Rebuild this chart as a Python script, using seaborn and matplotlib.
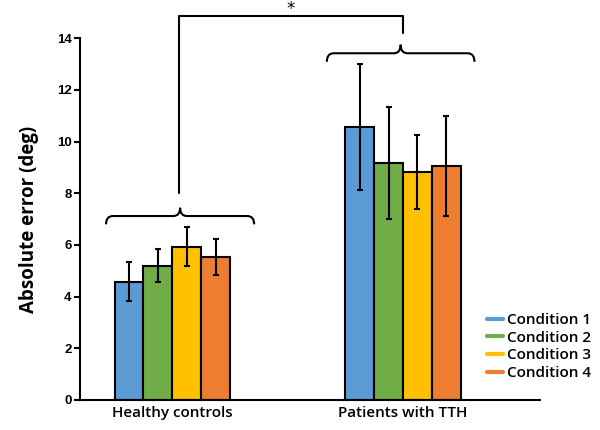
import numpy as np
import pandas as pd
import matplotlib
matplotlib.use("Agg")
import matplotlib.pyplot as plt
import seaborn as sns
from matplotlib.lines import Line2D
from matplotlib.path import Path
from matplotlib.patches import PathPatch

# -----------------------------
# DATA
# -----------------------------
groups = ["Healthy controls", "Patients with TTH"]
conditions = ["Condition 1", "Condition 2", "Condition 3", "Condition 4"]
means_healthy = [4.58, 5.20, 5.93, 5.53]
means_tth = [10.58, 9.16, 8.82, 9.06]
err_healthy = [0.75, 0.65, 0.76, 0.70]
err_tth = [2.44, 2.17, 1.43, 1.93]
colors = ["#5B9BD5", "#70AD47", "#FFC000", "#ED7D31"]

df = pd.DataFrame({
    "group": [g for g in groups for _ in conditions],
    "condition": conditions * len(groups),
    "mean": means_healthy + means_tth,
    "err": err_healthy + err_tth,
})

sns.set_style("white", {"text.color": "black", "axes.labelcolor": "black",
                        "xtick.color": "black", "ytick.color": "black",
                        "axes.edgecolor": "black"})
plt.rcParams["font.family"] = ["Open Sans", "DejaVu Sans"]

fig = plt.figure(figsize=(6, 4.3), dpi=100)
ax = fig.add_axes([0.1333, 0.0698, 0.7667, 0.8412])

sns.barplot(
    data=df, x="group", y="mean", hue="condition",
    order=groups, hue_order=conditions, palette=colors, saturation=1,
    width=0.5, errorbar=None, edgecolor="black", linewidth=1.5,
    legend=False, ax=ax,
)

# error bars on top of each bar
for cond, cont in zip(conditions, ax.containers):
    sub = df[df["condition"] == cond].set_index("group").loc[groups]
    xs = [b.get_x() + b.get_width() / 2 for b in cont]
    ys = [b.get_height() for b in cont]
    ax.errorbar(xs, ys, yerr=sub["err"].values, fmt="none",
                ecolor="black", elinewidth=1.5, capsize=2, capthick=1.5, zorder=5)

ax.set_xlim(-0.4, 1.594)
ax.set_ylim(0, 14)
ax.set_yticks(range(0, 15, 2))
for lab in ax.get_yticklabels():
    lab.set_fontfamily("Liberation Sans")
    lab.set_fontweight("bold")
    lab.set_fontsize(9.5)
ax.tick_params(axis="y", direction="out", length=4, width=1.5, pad=2, left=True)
ax.tick_params(axis="x", length=0, labelsize=11, pad=4)
for lab in ax.get_xticklabels():
    lab.set_fontweight("semibold")

sns.despine(ax=ax)
ax.spines["left"].set_linewidth(1.5)
ax.spines["bottom"].set_linewidth(1.5)
ax.set_xlabel("")
ax.set_ylabel("Absolute error (deg)", fontsize=13.5, fontweight="bold", labelpad=13)


# -----------------------------
# BRACES + SIGNIFICANCE
# -----------------------------
def brace(x0, x1, y, h):
    xm = (x0 + x1) / 2
    verts = [
        (x0, y - h), (x0, y), (x0 + 0.03, y),
        (xm - 0.03, y), (xm, y), (xm, y + h),
        (xm, y + h), (xm, y), (xm + 0.03, y),
        (x1 - 0.03, y), (x1, y), (x1, y - h),
    ]
    codes = [Path.MOVETO, Path.CURVE3, Path.CURVE3,
             Path.LINETO, Path.CURVE3, Path.CURVE3,
             Path.MOVETO, Path.CURVE3, Path.CURVE3,
             Path.LINETO, Path.CURVE3, Path.CURVE3]
    ax.add_patch(PathPatch(Path(verts, codes), fill=False, lw=1.5,
                           edgecolor="black", clip_on=False))


brace(-0.287, 0.355, 7.12, 0.32)
brace(0.67, 1.31, 13.42, 0.33)

x_left, x_right = 0.03, 1.0
y_top = 14.87
ax.plot([x_left, x_left, x_right, x_right], [8.03, y_top, y_top, 14.2],
        color="black", lw=1.5, clip_on=False)
ax.text((x_left + x_right) / 2, 15.12, "*", ha="center", va="center",
        fontsize=12, fontfamily="DejaVu Sans")

# -----------------------------
# LEGEND
# -----------------------------
handles = [Line2D([0], [0], color=c, lw=3) for c in colors]
ax.legend(handles, conditions, loc="lower left", bbox_to_anchor=(0.872, 0.038),
          frameon=False, handlelength=1.0, handletextpad=0.3, labelspacing=0.24,
          prop={"size": 11, "weight": "semibold"}, borderaxespad=0)

fig.savefig("out.png", dpi=100)
